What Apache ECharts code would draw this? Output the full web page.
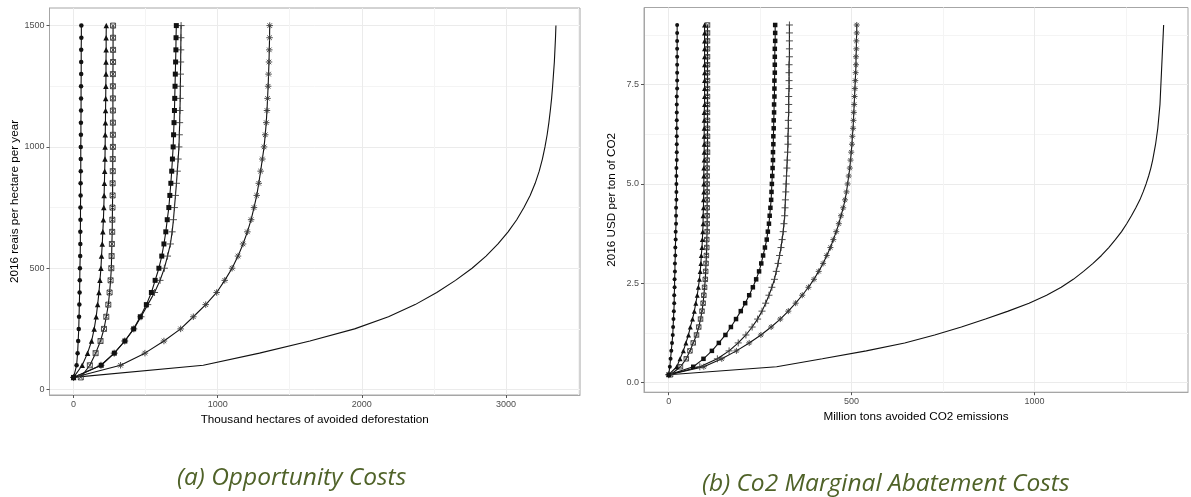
<!DOCTYPE html>
<html>
<head>
<meta charset="utf-8">
<script src="https://cdn.jsdelivr.net/npm/echarts@6/dist/echarts.min.js"></script>
<style>
html,body{margin:0;padding:0;background:#fff;}
#chart{width:1191px;height:497px;}
</style>
</head>
<body>
<div id="chart"></div>
<script>
// ---------- price levels (y) ----------
const priceLeft = [50,100,150,200,250,300,350,400,450,500,550,600,650,700,750,800,850,900,950,1000,1050,1100,1150,1200,1250,1300,1350,1400,1450,1500];
const priceRight = [0.2,0.4,0.6,0.8,1.0,1.2,1.4,1.6,1.8,2.0,2.2,2.4,2.6,2.8,3.0,3.2,3.4,3.6,3.8,4.0,4.2,4.4,4.6,4.8,5.0,5.2,5.4,5.6,5.8,6.0,6.2,6.4,6.6,6.8,7.0,7.2,7.4,7.6,7.8,8.0,8.2,8.4,8.6,8.8,9.0];

// ---------- (a) thousand hectares of avoided deforestation ----------
const leftCircle   = [0,21,28,32,36,38,40,42,43,44,46,47,47,48,48,49,49,50,50,50,51,51,52,52,52,53,53,53,54,54];
const leftTriangle = [0,60,97,125,143,157,167,176,183,190,194,199,203,207,210,212,214,216,218,219,220,221,222,223,224,225,225,226,226,227];
const leftSqCross  = [50,113,153,187,211,227,241,250,257,262,264,266,268,269,270,271,271,272,272,273,273,273,273,273,273,273,274,274,274,274];
const leftSquare   = [0,192,283,356,417,463,505,540,566,592,612,627,640,650,661,668,675,681,686,691,694,697,700,702,704,706,708,710,711,713];
const leftPlus     = [0,190,282,355,418,468,515,562,600,630,652,672,684,693,700,707,714,720,726,731,734,736,738,740,741,742,743,744,745,746];
const leftStar     = [0,326,495,627,743,831,917,993,1049,1100,1141,1176,1206,1232,1252,1271,1285,1298,1310,1322,1330,1337,1342,1346,1350,1353,1356,1358,1360,1361];
const leftLine     = [0,900,1290,1640,1950,2185,2370,2520,2650,2765,2862,2945,3015,3075,3125,3168,3203,3231,3253,3271,3286,3298,3308,3317,3324,3330,3336,3340,3344,3347];

// ---------- (b) million tons avoided CO2 emissions ----------
const rightCircle   = [0,3,5,7,9,11,12,13,14,15,15,16,16,17,17,18,18,19,19,20,20,20,21,21,21,21,21,22,22,22,22,22,22,22,22,22,23,23,23,23,23,23,23,23,23];
const rightTriangle = [0,22,31,40,47,54,59,65,70,74,78,81,84,86,88,89,91,92,93,94,94,95,95,96,96,96,96,97,97,97,97,97,97,97,98,98,98,98,98,98,98,98,98,98,98];
const rightSqCross  = [5,32,48,58,67,76,82,87,91,94,96,98,100,101,102,103,104,104,105,105,105,105,105,105,105,105,105,105,106,106,106,106,106,106,106,106,106,106,106,106,106,106,106,106,106];
const rightSquare   = [0,67,95,118,137,155,170,184,197,209,220,230,239,247,253,258,263,268,271,274,276,278,280,281,282,283,284,285,285,286,286,287,287,288,288,289,289,289,290,290,290,290,291,291,291];
const rightPlus     = [0,85,133,165,190,211,228,243,255,265,274,282,289,294,299,303,307,310,313,315,317,318,319,320,321,322,323,324,325,326,326,327,327,328,328,328,329,329,329,329,330,330,330,330,330];
const rightStar     = [0,96,145,185,220,252,280,305,327,347,365,382,397,410,422,432,442,450,458,465,471,477,482,486,489,492,495,497,499,501,502,504,505,506,507,508,509,510,511,512,512,513,513,514,514];
const rightLine     = [0,295,420,540,645,727,800,866,928,985,1033,1073,1106,1134,1160,1183,1203,1221,1238,1252,1265,1277,1288,1297,1305,1312,1318,1323,1327,1331,1334,1337,1339,1341,1343,1344,1345,1346,1347,1348,1349,1350,1351,1352,1353];

// ---------- ticks ----------
const leftXTicks = [0,1000,2000,3000];
const leftXMinor = [500,1500,2500,3500];
const leftYTicks = [0,500,1000,1500];
const leftYMinor = [250,750,1250];
const rightXTicks = [0,500,1000];
const rightXMinor = [250,750,1250];
const rightYTicks = [0,2.5,5,7.5];
const rightYMinor = [1.25,3.75,6.25,8.75];

const captionA = '(a) Opportunity Costs';
const captionB = '(b) Co2 Marginal Abatement Costs';

// ---------- styling ----------
const FONT = '"Liberation Sans", Arial, sans-serif';
const CAPFONT = '"Open Sans", Lato, sans-serif';
const BORDER = '#a6a6a6';
const MAJOR = '#ebebeb';
const MINORC = '#f4f4f4';
const TITLESIZE = 11.7;

const SYM_SQCROSS = 'path://M0,0 L10,0 L10,10 L0,10 Z M0,0 L10,10 M10,0 L0,10';
const SYM_PLUS = 'path://M5,0 L5,10 M0,5 L10,5';
const SYM_STAR = 'path://M5,0 L5,10 M0,5 L10,5 M1.5,1.5 L8.5,8.5 M8.5,1.5 L1.5,8.5';

const plain = v => String(v);
const oneDec = v => Number(v).toFixed(1);

function mainX(gi, min, max, ticks, name, gap) {
  return {
    type: 'value', gridIndex: gi, min: min, max: max, position: 'bottom',
    name: name, nameLocation: 'middle', nameGap: gap,
    nameTextStyle: {fontFamily: FONT, fontSize: TITLESIZE, color: '#000'},
    axisLine: {show: true, onZero: false, lineStyle: {color: BORDER, width: 1}},
    axisTick: {show: true, length: 3, customValues: ticks, lineStyle: {color: '#555', width: 1}},
    axisLabel: {show: true, customValues: ticks, margin: 5, fontFamily: FONT, fontSize: 9, color: '#4d4d4d', formatter: plain},
    splitLine: {show: true, lineStyle: {color: MAJOR, width: 1}}
  };
}
function minorX(gi, min, max, ticks) {
  return {
    type: 'value', gridIndex: gi, min: min, max: max, position: 'top',
    axisLine: {show: false, onZero: false},
    axisTick: {show: false, customValues: ticks},
    axisLabel: {show: false, customValues: ticks},
    splitLine: {show: true, lineStyle: {color: MINORC, width: 1}}
  };
}
function mainY(gi, min, max, ticks, name, gap, fmt) {
  return {
    type: 'value', gridIndex: gi, min: min, max: max, position: 'left',
    name: name, nameLocation: 'middle', nameGap: gap,
    nameTextStyle: {fontFamily: FONT, fontSize: TITLESIZE, color: '#000'},
    axisLine: {show: true, onZero: false, lineStyle: {color: BORDER, width: 1}},
    axisTick: {show: true, length: 3, customValues: ticks, lineStyle: {color: '#555', width: 1}},
    axisLabel: {show: true, customValues: ticks, margin: 5, fontFamily: FONT, fontSize: 9, color: '#4d4d4d', formatter: fmt},
    splitLine: {show: true, lineStyle: {color: MAJOR, width: 1}}
  };
}
function minorY(gi, min, max, ticks) {
  return {
    type: 'value', gridIndex: gi, min: min, max: max, position: 'right',
    axisLine: {show: false, onZero: false},
    axisTick: {show: false, customValues: ticks},
    axisLabel: {show: false, customValues: ticks},
    splitLine: {show: true, lineStyle: {color: MINORC, width: 1}}
  };
}

function mk(xs, ys, xi, yi, symbol, size, filled) {
  return {
    type: 'line', xAxisIndex: xi, yAxisIndex: yi,
    data: xs.map((x, i) => [x, ys[i]]),
    symbol: symbol, symbolSize: size, showSymbol: symbol !== 'none', showAllSymbol: true,
    lineStyle: {color: '#111', width: 1.1},
    itemStyle: filled ? {color: '#111', borderWidth: 0}
                      : {color: 'rgba(0,0,0,0)', borderColor: '#3a3a3a', borderWidth: 0.9},
    emphasis: {disabled: true}, silent: true, clip: false, z: 3
  };
}

const chart = echarts.init(document.getElementById('chart'), null, {renderer: 'canvas'});
chart.setOption({
  animation: false,
  backgroundColor: '#ffffff',
  title: [
    {text: captionA, left: 172, top: 461,
     textStyle: {fontFamily: CAPFONT, fontStyle: 'italic', fontWeight: 'normal', fontSize: 24.5, color: '#4f6228'}},
    {text: captionB, left: 697, top: 467,
     textStyle: {fontFamily: CAPFONT, fontStyle: 'italic', fontWeight: 'normal', fontSize: 24.5, color: '#4f6228'}}
  ],
  grid: [
    {left: 49.5, top: 8, width: 530.5, height: 387, show: true, borderColor: BORDER, borderWidth: 1, backgroundColor: '#fff'},
    {left: 644, top: 7.5, width: 544, height: 384.7, show: true, borderColor: BORDER, borderWidth: 1, backgroundColor: '#fff'}
  ],
  xAxis: [
    mainX(0, -167, 3514, leftXTicks, 'Thousand hectares of avoided deforestation', 15),
    minorX(0, -167, 3514, leftXMinor),
    mainX(1, -67.6, 1419.6, rightXTicks, 'Million tons avoided CO2 emissions', 15),
    minorX(1, -67.6, 1419.6, rightXMinor)
  ],
  yAxis: [
    mainY(0, -22.5, 1572.5, leftYTicks, '2016 reais per hectare per year', 25, plain),
    minorY(0, -22.5, 1572.5, leftYMinor),
    mainY(1, -0.24, 9.44, rightYTicks, '2016 USD per ton of CO2', 26, oneDec),
    minorY(1, -0.24, 9.44, rightYMinor)
  ],
  series: [
    mk(leftLine, priceLeft, 0, 0, 'none', 0, true),
    mk(leftStar, priceLeft, 0, 0, SYM_STAR, 6.5, false),
    mk(leftPlus, priceLeft, 0, 0, SYM_PLUS, 7, false),
    mk(leftSquare, priceLeft, 0, 0, 'rect', 5, true),
    mk(leftSqCross, priceLeft, 0, 0, SYM_SQCROSS, 5, false),
    mk(leftTriangle, priceLeft, 0, 0, 'triangle', 5.5, true),
    mk(leftCircle, priceLeft, 0, 0, 'circle', 4.5, true),

    mk(rightLine, priceRight, 2, 2, 'none', 0, true),
    mk(rightStar, priceRight, 2, 2, SYM_STAR, 6, false),
    mk(rightPlus, priceRight, 2, 2, SYM_PLUS, 7, false),
    mk(rightSquare, priceRight, 2, 2, 'rect', 4.5, true),
    mk(rightSqCross, priceRight, 2, 2, SYM_SQCROSS, 4.5, false),
    mk(rightTriangle, priceRight, 2, 2, 'triangle', 5, true),
    mk(rightCircle, priceRight, 2, 2, 'circle', 4, true)
  ]
});
</script>
</body>
</html>
